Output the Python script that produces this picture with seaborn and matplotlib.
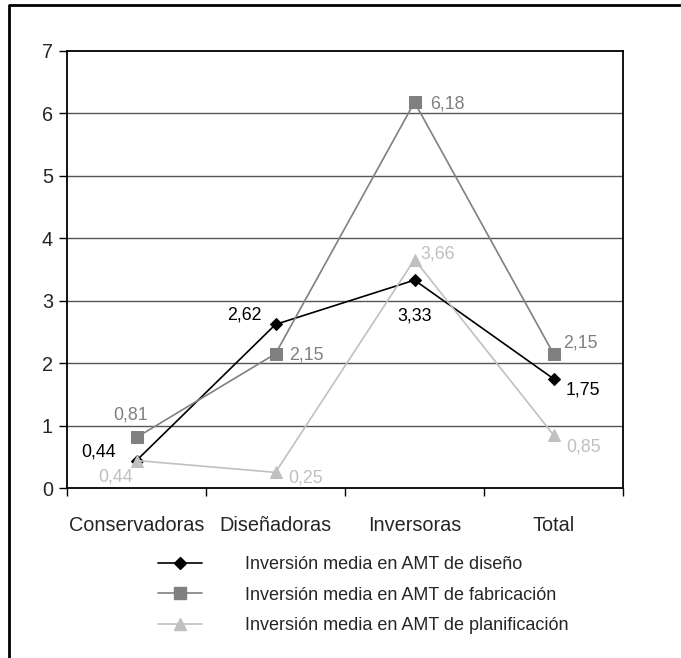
import matplotlib
matplotlib.use("Agg")
import matplotlib.pyplot as plt
from matplotlib.lines import Line2D
import pandas as pd
import seaborn as sns

# Categories and series
categories = ["Conservadoras", "Diseñadoras", "Inversoras", "Total"]
diseno = [0.44, 2.62, 3.33, 1.75]
fabricacion = [0.81, 2.15, 6.18, 2.15]
planificacion = [0.44, 0.25, 3.66, 0.85]
series_names = [
    "Inversión media en AMT de diseño",
    "Inversión media en AMT de fabricación",
    "Inversión media en AMT de planificación",
]
y_ticks = [0, 1, 2, 3, 4, 5, 6, 7]

colors = ["#000000", "#808080", "#c0c0c0"]
markers = ["D", "s", "^"]
marker_sizes = [6.5, 8.5, 9]

rows = []
for name, vals in zip(series_names, [diseno, fabricacion, planificacion]):
    for cat, v in zip(categories, vals):
        rows.append({"Grupo": cat, "Valor": v, "Serie": name})
df = pd.DataFrame(rows)

sns.set_style("white")
plt.rcParams["font.family"] = ["Liberation Sans", "DejaVu Sans"]

W, H = 681, 658
fig = plt.figure(figsize=(W / 100, H / 100), dpi=100)
ax = fig.add_axes([67 / W, 1 - 488 / H, (623 - 67) / W, (488 - 51) / H])

for name, col, mk, ms in zip(series_names, colors, markers, marker_sizes):
    sub = df[df["Serie"] == name]
    sns.lineplot(data=sub, x="Grupo", y="Valor", ax=ax, color=col, marker=mk,
                 markersize=ms, markeredgecolor=col, linewidth=1.2,
                 sort=False, legend=False, zorder=3)

ax.set_xlim(-0.5, len(categories) - 0.5)
ax.set_ylim(0, 7)
ax.set_yticks(y_ticks)
ax.set_yticklabels([str(t) for t in y_ticks])
ax.set_xticks(range(len(categories)))
ax.set_xticklabels(categories)
ax.set_xticks([i - 0.5 for i in range(len(categories) + 1)], minor=True)
ax.set_xlabel("")
ax.set_ylabel("")

ax.tick_params(axis="x", which="major", length=0, labelsize=14.3, pad=20)
ax.tick_params(axis="x", which="minor", length=6, width=1, color="black",
               direction="out", bottom=True)
ax.tick_params(axis="y", which="major", length=6, width=1, color="black",
               direction="out", left=True, labelsize=14.3, pad=4)

for y in y_ticks[1:-1]:
    ax.axhline(y, color="#555555", linewidth=1.0, zorder=1)
for s in ax.spines.values():
    s.set_visible(True)
    s.set_color("black")
    s.set_linewidth(1.3)

# Value labels: (dx, dy in points, ha, va)
label_pos = {
    0: [(-15, 6, "right", "center"), (-10, 7, "right", "center"),
        (0, -26, "center", "center"), (9, -8, "left", "center")],
    1: [(-4, 16, "center", "center"), (10, -1, "left", "center"),
        (11, -1, "left", "center"), (7, 8, "left", "center")],
    2: [(-15, -12, "center", "center"), (9, -4, "left", "center"),
        (4, 4, "left", "center"), (9, -9, "left", "center")],
}
for si, (vals, col) in enumerate(zip([diseno, fabricacion, planificacion], colors)):
    for xi, v in enumerate(vals):
        dx, dy, ha, va = label_pos[si][xi]
        ax.annotate(f"{v:.2f}".replace(".", ","), (xi, v), xytext=(dx, dy),
                    textcoords="offset points", ha=ha, va=va, color=col,
                    fontsize=12.8, zorder=4)

handles = [Line2D([0], [0], color=c, marker=m, markersize=ms, linewidth=1.2,
                  markeredgecolor=c)
           for c, m, ms in zip(colors, markers, marker_sizes)]
fig.legend(handles, series_names, loc="upper left",
           bbox_to_anchor=(158 / W, 1 - 556 / H), frameon=False,
           fontsize=13, handlelength=2.45, handletextpad=2.35,
           labelspacing=0.75, borderpad=0, borderaxespad=0)

# Outer frame (top and left edges)
fig.add_artist(Line2D([10 / W, 1.0], [1 - 5 / H, 1 - 5 / H], color="black",
                      linewidth=2, transform=fig.transFigure))
fig.add_artist(Line2D([9 / W, 9 / W], [0, 1 - 5 / H], color="black",
                      linewidth=2, transform=fig.transFigure))

fig.savefig("out.png", dpi=100)
